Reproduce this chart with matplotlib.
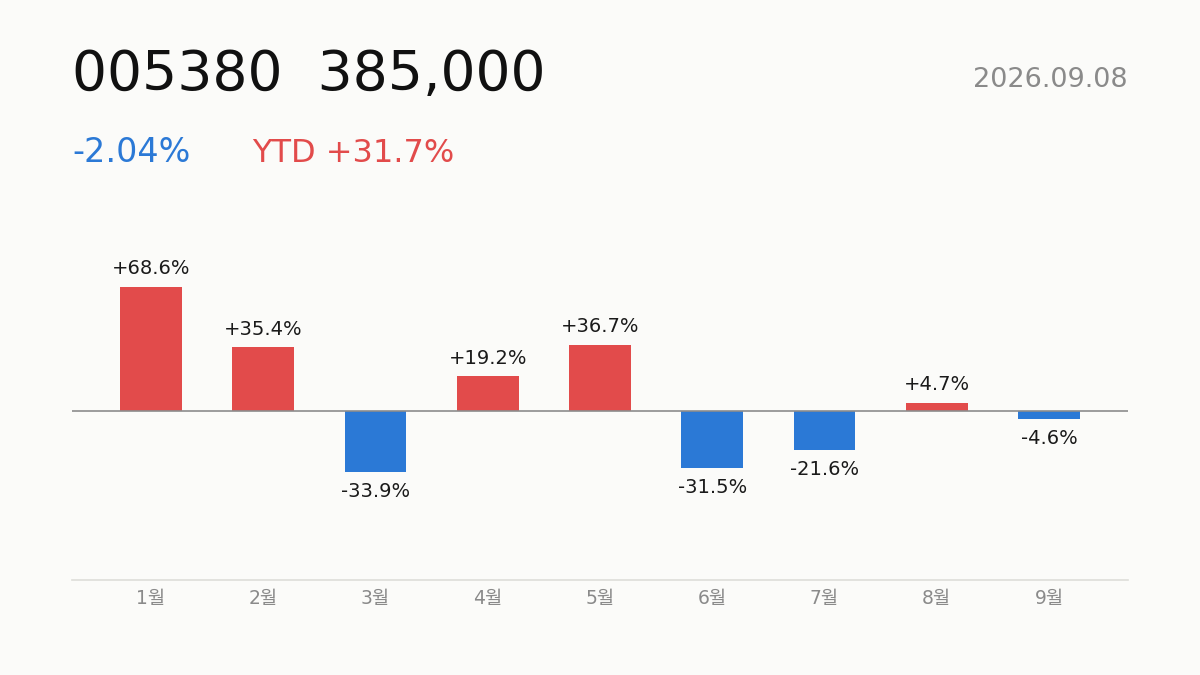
import matplotlib
matplotlib.use("Agg")
import matplotlib.pyplot as plt

plt.rcParams['font.family'] = ['DejaVu Sans', 'Noto Sans CJK KR']

months = ["1월", "2월", "3월", "4월", "5월", "6월", "7월", "8월", "9월"]
returns = [68.6, 35.4, -33.9, 19.2, 36.7, -31.5, -21.6, 4.7, -4.6]
ticker = "005380"
price = "385,000"
date_str = "2026.09.08"
day_change = "-2.04%"
ytd = "YTD +31.7%"

BG = "#fbfbf9"
RED = "#e24b4b"
BLUE = "#2b79d6"

fig = plt.figure(figsize=(12, 6.75), dpi=100, facecolor=BG)
ax = fig.add_axes([72/1200, 1-580/675, 1056/1200, 380/675])
ax.set_facecolor(BG)

x = list(range(len(months)))
colors = [RED if v >= 0 else BLUE for v in returns]
ax.bar(x, returns, width=0.55, color=colors, zorder=2)
ax.axhline(0, color="#8c8c8c", lw=1.2, zorder=3)

ppu = 124/68.6
ax.set_ylim(-169/ppu, 211/ppu)
ax.set_xlim(-79/112.25, len(months)-1 + 79/112.25)

for xi, v in zip(x, returns):
    label = f"+{v:.1f}%" if v >= 0 else f"{v:.1f}%"
    off = 12.5*0.72 if v >= 0 else -25*0.72
    ax.annotate(label, (xi, v), xytext=(0, off), textcoords="offset points",
                ha="center", va="baseline", fontsize=14, color="#1a1a1a")

ax.set_xticks(x)
ax.set_xticklabels(months, fontsize=13.5, color="#8a8a8a")
ax.tick_params(axis="x", length=0, pad=6.5)
ax.set_yticks([])
for s in ["top", "left", "right"]:
    ax.spines[s].set_visible(False)
ax.spines["bottom"].set_color("#deded9")
ax.spines["bottom"].set_linewidth(1.2)

fig.text(72/1200, 1-90/675, f"{ticker}  {price}", fontsize=39.7, color="#111111",
         ha="left", va="baseline")
fig.text(1128/1200, 1-87/675, date_str, fontsize=19.5, color="#8a8a8a",
         ha="right", va="baseline")
fig.text(72/1200, 1-162/675, day_change, fontsize=24, color=BLUE,
         ha="left", va="baseline")
fig.text(252/1200, 1-162/675, ytd, fontsize=23, color=RED,
         ha="left", va="baseline")

fig.savefig("out.png", dpi=100, facecolor=BG)
